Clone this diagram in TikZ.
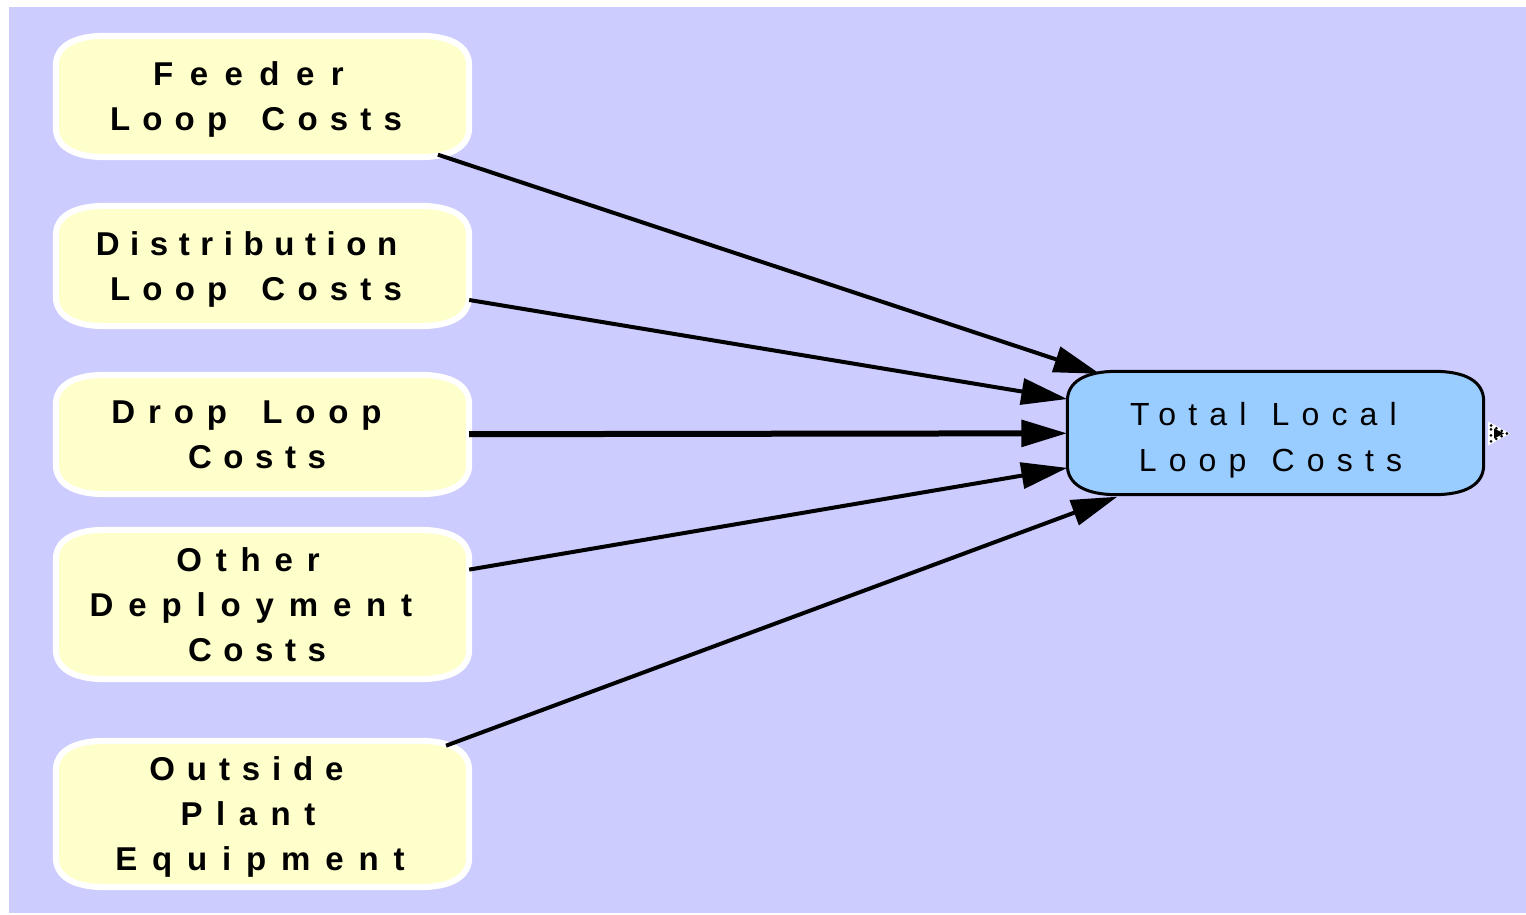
\documentclass[tikz,border=0pt]{standalone}
\usepackage{fontspec}
\setmainfont{Liberation Sans}
\newfontfamily\srcfont[LetterSpace=40,WordSpace=1.6]{Liberation Sans Bold}
\newfontfamily\sumfont[LetterSpace=38,WordSpace=1.2]{Liberation Sans}
\usetikzlibrary{arrows.meta,backgrounds}
\definecolor{canvas}{HTML}{CCCCFF}
\definecolor{srcfill}{HTML}{FFFFCC}
\definecolor{sumfill}{HTML}{99CCFF}

% one line of text with its own tracking, nudged left by half of #2
\newcommand\tracked[3]{\hbox{{\addfontfeature{LetterSpace=#1}#3}\kern#2pt}}

\tikzset{
  srcbox/.style={rectangle, inner sep=0pt, minimum width=413pt, minimum height=#1,
    align=center, text depth=0pt, font=\srcfont\fontsize{33}{45}\selectfont},
  sumbox/.style={rectangle, inner sep=0pt, minimum width=416pt, minimum height=123pt,
    align=center, text height=76pt, text depth=0pt,
    font=\sumfont\fontsize{32}{46}\selectfont},
  link/.style={-{Triangle[length=46pt,width=26pt]}, line width=4pt, black},
  boldlink/.style={link, line width=6pt},
}

% outline of a box with flattened, bevel-like corners around a named node
\newcommand\drawcapsule[4]{%
  \path[fill=#2, draw=#3, line width=#4]
    ([xshift=50pt]#1.north west) -- ([xshift=-50pt]#1.north east)
    .. controls +(32.5pt,0pt) and +(0pt,19.5pt) .. ([yshift=-30pt]#1.north east)
    -- ([yshift=30pt]#1.south east)
    .. controls +(0pt,-19.5pt) and +(32.5pt,0pt) .. ([xshift=-50pt]#1.south east)
    -- ([xshift=50pt]#1.south west)
    .. controls +(-32.5pt,0pt) and +(0pt,-19.5pt) .. ([yshift=30pt]#1.south west)
    -- ([yshift=-30pt]#1.north west)
    .. controls +(0pt,19.5pt) and +(-32.5pt,0pt) .. ([xshift=50pt]#1.north west)
    -- cycle;}

\begin{document}
\begin{tikzpicture}[x=1pt,y=1pt]
  \useasboundingbox (0,0) rectangle (1526,-915);

  % source quantities
  \node[srcbox=121pt] (feeder) at (262.5,-96.5)
    {\tracked{50}{28}{Feeder}\\\tracked{37}{13}{Loop Costs}};
  \node[srcbox=120pt] (distrib) at (262.5,-266)
    {\tracked{32}{32}{Distribution}\\\tracked{37}{13}{Loop Costs}};
  \node[srcbox=119pt] (drop) at (262.5,-434.5)
    {\tracked{39}{32}{Drop Loop}\\\tracked{35}{11}{Costs}};
  \node[srcbox=149pt] (other) at (262.5,-604.5)
    {\tracked{42}{29}{Other}\\\tracked{45}{23}{Deployment}\\\tracked{35}{11}{Costs}};
  \node[srcbox=146pt] (outside) at (262.5,-814)
    {\tracked{36}{32}{Outside}\\\tracked{41}{29}{Plant}\\\tracked{45}{5}{Equipment}};

  % result quantity
  \node[sumbox] (total) at (1275.5,-433)
    {\tracked{38}{24}{Total Local}\\\tracked{38}{10}{Loop Costs}};

  \begin{scope}[on background layer]
    \fill[canvas] (9,-7) rectangle (1526,-913);
    \drawcapsule{feeder}{srcfill}{white}{6pt}
    \drawcapsule{distrib}{srcfill}{white}{6pt}
    \drawcapsule{drop}{srcfill}{white}{6pt}
    \drawcapsule{other}{srcfill}{white}{6pt}
    \drawcapsule{outside}{srcfill}{white}{6pt}
    \drawcapsule{total}{sumfill}{black}{3pt}
  \end{scope}

  % influences
  \draw[link, shorten <=-8pt] (feeder) -- ([xshift=32.5pt,yshift=-2.5pt]total.north west);
  \draw[link] (distrib) -- (total);
  \draw[boldlink] (drop) -- (total);
  \draw[link] (other) -- (total);
  \draw[link, shorten <=-14pt] (outside) -- ([xshift=50pt,yshift=-2pt]total.south west);

  % output marker beside the result
  \coordinate (mark) at (1499,-433.5);
  \fill[white] ([shift={(-11,12)}]mark) -- ([shift={(11,0)}]mark) -- ([shift={(-11,-12)}]mark) -- cycle;
  \draw[black, line width=3pt, dash pattern=on 0pt off 6pt, line cap=round]
    ([shift={(-8,8)}]mark) -- ([shift={(8,0)}]mark) -- ([shift={(-8,-8)}]mark) -- cycle;
  \fill[black] ([shift={(-5,5)}]mark) -- ([shift={(5,0)}]mark) -- ([shift={(-5,-5)}]mark) -- cycle;
\end{tikzpicture}
\end{document}
